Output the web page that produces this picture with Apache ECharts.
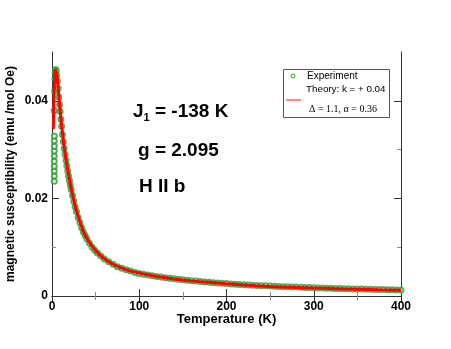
<!DOCTYPE html>
<html>
<head>
<meta charset="utf-8">
<script src="https://cdn.jsdelivr.net/npm/echarts@6/dist/echarts.min.js"></script>
<style>
  html, body { margin: 0; padding: 0; background: #fff; }
  #chart { width: 451px; height: 349px; }
</style>
</head>
<body>
<div id="chart"></div>
<script>
// experiment: temperature (K) and susceptibility (emu/mol Oe)
const expT = [
  2.6, 2.6, 2.6, 2.6, 2.6, 2.6, 2.6, 2.6, 2.6, 2.6,
  2.6, 3.0, 3.4, 3.8, 4.2, 4.8, 5.4, 6.2, 7.0, 7.8, 8.6, 9.4, 10.2, 11, 12, 13, 14, 15,
  16, 17, 18, 19, 20, 21, 22, 23.5, 25, 26.5, 28, 30, 32, 34, 36, 38, 40, 43, 46, 49,
  52, 56, 60, 65, 70, 75, 80, 85, 90, 95,
  100, 105, 110, 115, 120, 125, 130, 135, 140, 145, 150, 155, 160, 165, 170, 175,
  180, 185, 190, 195, 200, 205, 210, 215, 220, 225, 230, 235, 240, 245, 250, 255,
  260, 265, 270, 275, 280, 285, 290, 295, 300, 305, 310, 315, 320, 325, 330, 335,
  340, 345, 350, 355, 360, 365, 370, 375, 380, 385, 390, 395, 400
]
const expChi = [
  0.0235, 0.0246, 0.0256, 0.0266, 0.0276, 0.0287, 0.0297, 0.0307, 0.0318, 0.0328,
  0.0380, 0.0420, 0.0445, 0.0458, 0.0464, 0.0461, 0.0452, 0.0440, 0.0425, 0.0408, 0.0392, 0.0378, 0.0362, 0.0348, 0.0331, 0.0316, 0.0302, 0.0290,
  0.0278, 0.0267, 0.0256, 0.0246, 0.0236, 0.0227, 0.0218, 0.0206, 0.0194, 0.0183, 0.0173, 0.0161, 0.0150, 0.0140, 0.0131, 0.0124, 0.0117, 0.0108, 0.0100, 0.0094,
  0.0088, 0.0082, 0.0076, 0.0070, 0.0065, 0.0060, 0.0057, 0.0054, 0.0051, 0.0048,
  0.00460, 0.00445, 0.00430, 0.00415, 0.00400, 0.00388, 0.00375, 0.00363, 0.00352, 0.00342, 0.00332, 0.00322, 0.00313, 0.00305, 0.00297, 0.00289,
  0.00281, 0.00274, 0.00267, 0.00260, 0.00254, 0.00248, 0.00242, 0.00237, 0.00231, 0.00226, 0.00221, 0.00217, 0.00212, 0.00208, 0.00204, 0.00200,
  0.00196, 0.00192, 0.00189, 0.00185, 0.00182, 0.00179, 0.00175, 0.00172, 0.00169, 0.00166, 0.00163, 0.00161, 0.00158, 0.00155, 0.00153, 0.00150,
  0.00148, 0.00146, 0.00143, 0.00141, 0.00139, 0.00137, 0.00135, 0.00133, 0.00131, 0.00129, 0.00127, 0.00125, 0.00123
]

// theory curve
const fitT = [
  1.5, 2, 2.5, 3, 3.5, 4, 4.5, 5, 6, 7, 8, 9, 10, 11, 12, 14, 16, 18, 20, 22, 25, 28,
  32, 36, 40, 45, 50, 60, 70, 80, 90, 100, 120, 140, 160, 180, 200, 225, 250, 275,
  300, 325, 350, 375, 400
]
const fitChi = [
  0.0342, 0.0385, 0.0420, 0.0445, 0.0458, 0.0463, 0.0463, 0.0459, 0.0446, 0.0428, 0.0407, 0.0387, 0.0368, 0.0350, 0.0334, 0.0305, 0.0280, 0.0258, 0.0239, 0.0220, 0.0196, 0.0175,
  0.0152, 0.0132, 0.0118, 0.0104, 0.0093, 0.0076, 0.0065, 0.0057, 0.0051, 0.0047, 0.0040, 0.0035, 0.0031, 0.0028, 0.00250, 0.00220, 0.00195, 0.00178,
  0.00163, 0.00150, 0.00138, 0.00126, 0.00116
]

const xTicks = [0, 100, 200, 300, 400]
const yLabelValues = [0, 0.02, 0.04]
const yMinorValues = [0.01, 0.03]

const legendExp = 'Experiment'
const legendFit = 'Theory: k = + 0.04'
const legendParams = 'Δ = 1.1, α = 0.36'

const FONT = 'Liberation Sans, Arial, sans-serif'
const AXIS_COLOR = '#333'
const GREEN = '#2c9c2c'

const chart = echarts.init(document.getElementById('chart'))

function xAxisOf (position, showLabel) {
  return {
    type: 'value',
    position,
    min: xTicks[0],
    max: xTicks[xTicks.length - 1],
    interval: 100,
    name: showLabel ? 'Temperature (K)' : '',
    nameLocation: 'middle',
    nameGap: 17,
    nameMoveOverlap: false,
    nameTextStyle: { fontFamily: FONT, fontWeight: 'bold', fontSize: 13, color: '#000' },
    axisLine: { show: true, lineStyle: { color: AXIS_COLOR, width: 1 } },
    axisTick: { show: true, inside: true, length: 7, lineStyle: { color: AXIS_COLOR } },
    minorTick: { show: true, splitNumber: 2, length: 4, lineStyle: { color: '#888' } },
    splitLine: { show: false },
    axisLabel: {
      show: showLabel,
      margin: 5,
      fontFamily: FONT,
      fontWeight: 'bold',
      fontSize: 12,
      color: '#000'
    }
  }
}

function yAxisOf (position, major, showLabel) {
  return {
    type: 'value',
    position,
    min: 0,
    max: 0.05,
    interval: 0.01,
    name: showLabel ? 'magnetic susceptibility (emu /mol Oe)' : '',
    nameLocation: 'middle',
    nameGap: 35,
    nameMoveOverlap: false,
    nameTextStyle: { fontFamily: FONT, fontWeight: 'bold', fontSize: 12, color: '#000' },
    axisLine: { show: major, lineStyle: { color: AXIS_COLOR, width: 1 } },
    axisTick: {
      show: true,
      inside: true,
      length: major ? 7 : 4,
      customValues: major ? yLabelValues : yMinorValues,
      lineStyle: { color: major ? AXIS_COLOR : '#888' }
    },
    splitLine: { show: false },
    axisLabel: {
      show: showLabel,
      customValues: yLabelValues,
      margin: 4,
      fontFamily: FONT,
      fontWeight: 'bold',
      fontSize: 12,
      color: '#000',
      formatter: v => (v === 0 ? '0' : String(v))
    }
  }
}

const option = {
  animation: false,
  backgroundColor: '#fff',
  grid: { left: 52, right: 50, top: 52, bottom: 53, outerBoundsMode: 'none' },
  xAxis: [xAxisOf('bottom', true), xAxisOf('top', false)],
  yAxis: [
    yAxisOf('left', true, true),
    yAxisOf('left', false, false),
    yAxisOf('right', true, false),
    yAxisOf('right', false, false)
  ],
  series: [
    {
      name: legendExp,
      type: 'scatter',
      symbol: 'emptyCircle',
      symbolSize: 5,
      itemStyle: { color: GREEN, borderWidth: 1 },
      data: expT.map((t, i) => [t, expChi[i]]),
      z: 2
    },
    {
      name: legendFit,
      type: 'line',
      showSymbol: false,
      smooth: 0.3,
      lineStyle: { color: '#ff0000', width: 3 },
      data: fitT.map((t, i) => [t, fitChi[i]]),
      z: 3
    }
  ],
  graphic: [
    {
      type: 'text',
      left: 133,
      top: 102,
      style: {
        text: '{b|J}{s|1}{b| = -138 K}',
        rich: {
          b: { fontFamily: FONT, fontWeight: 'bold', fontSize: 19, fill: '#000' },
          s: { fontFamily: FONT, fontWeight: 'bold', fontSize: 11, fill: '#000', padding: [12, 0, 0, 0] }
        }
      }
    },
    {
      type: 'text',
      left: 138,
      top: 141,
      style: { text: 'g = 2.095', fontFamily: FONT, fontWeight: 'bold', fontSize: 19, fill: '#000' }
    },
    {
      type: 'text',
      left: 139,
      top: 177,
      style: { text: 'H II b', fontFamily: FONT, fontWeight: 'bold', fontSize: 19, fill: '#000' }
    },
    // legend box
    {
      type: 'rect',
      shape: { x: 283.5, y: 69.5, width: 106, height: 48 },
      style: { fill: '#fff', stroke: '#555', lineWidth: 1 },
      z: 10
    },
    {
      type: 'circle',
      shape: { cx: 293, cy: 76, r: 2 },
      style: { fill: '#fff', stroke: GREEN, lineWidth: 1 },
      z: 11
    },
    {
      type: 'text',
      x: 307,
      y: 76,
      style: { text: legendExp, fontFamily: FONT, fontSize: 10, fill: '#000', verticalAlign: 'middle' },
      z: 11
    },
    {
      type: 'text',
      x: 306,
      y: 89,
      style: { text: legendFit, fontFamily: FONT, fontSize: 9.8, fill: '#000', verticalAlign: 'middle' },
      z: 11
    },
    {
      type: 'line',
      shape: { x1: 286, y1: 100, x2: 301, y2: 100 },
      style: { stroke: '#ff6060', lineWidth: 1.5 },
      z: 11
    },
    {
      type: 'text',
      x: 309,
      y: 109,
      style: { text: legendParams, fontFamily: 'Liberation Serif, Times New Roman, serif', fontSize: 10, fill: '#000', verticalAlign: 'middle' },
      z: 11
    }
  ]
}

chart.setOption(option)
</script>
</body>
</html>
